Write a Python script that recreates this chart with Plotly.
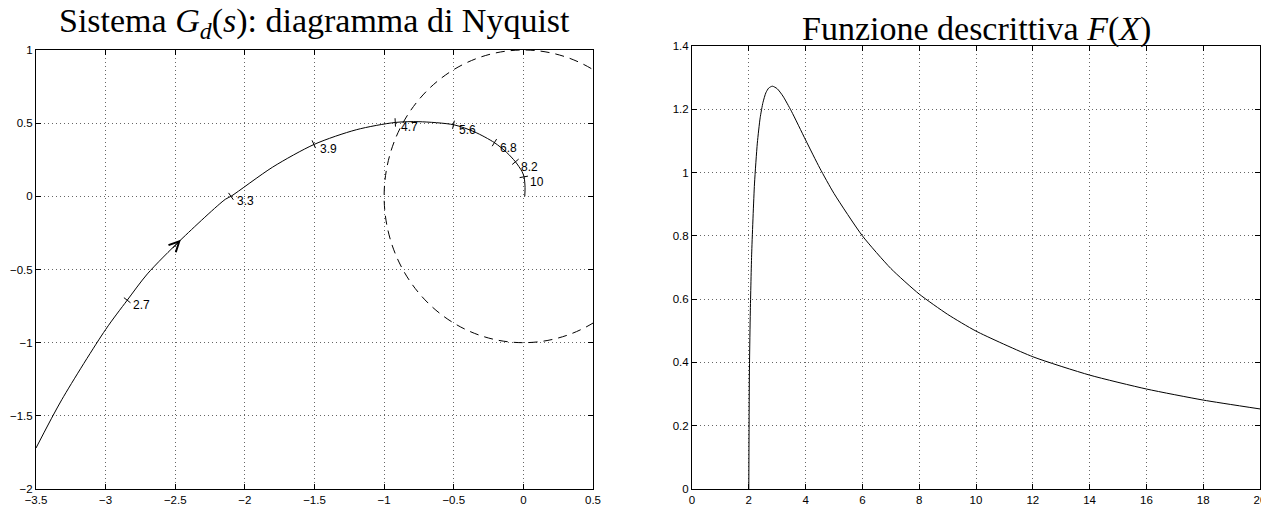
import plotly.graph_objects as go

W, H = 1261, 506

# ---------------- data ----------------
# Nyquist locus of G_d(jw)
nyq_re = [-3.5, -3.315, -3.0, -2.845, -2.70, -2.46, -2.14, -2.10, -1.8, -1.5, -1.2, -0.92,
          -0.75, -0.5, -0.35, -0.208, -0.12, -0.057, -0.01, 0.005, 0.012, 0.01]
nyq_im = [-1.72, -1.39, -0.91, -0.71, -0.53, -0.297, -0.02, 0.0, 0.2, 0.356, 0.455, 0.505,
          0.51, 0.489, 0.44, 0.367, 0.30, 0.236, 0.17, 0.133, 0.06, 0.0]

# frequency markers along the locus
freq_labels = ["2.7", "3.3", "3.9", "4.7", "5.6", "6.8", "8.2", "10"]
freq_re = [-2.845, -2.10, -1.505, -0.92, -0.502, -0.208, -0.057, 0.003]
freq_im = [-0.71, 0.0, 0.356, 0.505, 0.489, 0.367, 0.236, 0.133]

# direction arrow on the locus (tail -> head)
arrow_tail = (-2.53, -0.365)
arrow_head = (-2.46, -0.297)

# unit circle radius (dashed)
circle_radius = 1.0

# describing function F(X)
fx_X = [2.0, 2.02, 2.05, 2.1, 2.2, 2.3, 2.4, 2.5, 2.6, 2.7, 2.83, 3.0, 3.2, 3.5, 4.0, 4.5,
        5.0, 6.0, 7.0, 8.0, 9.0, 10.0, 12.0, 14.0, 16.0, 18.0, 20.0]
fx_F = [0.0, 0.354, 0.545, 0.740, 0.964, 1.093, 1.173, 1.222, 1.252, 1.267, 1.273, 1.265,
        1.242, 1.194, 1.103, 1.014, 0.934, 0.800, 0.697, 0.616, 0.552, 0.499, 0.418, 0.360,
        0.316, 0.281, 0.253]

# tick values / labels
l_xticks = [-3.5, -3, -2.5, -2, -1.5, -1, -0.5, 0, 0.5]
l_xtext = ["\u22123.5", "\u22123", "\u22122.5", "\u22122", "\u22121.5", "\u22121", "\u22120.5", "0", "0.5"]
l_yticks = [-2, -1.5, -1, -0.5, 0, 0.5, 1]
l_ytext = ["\u22122", "\u22121.5", "\u22121", "\u22120.5", "0", "0.5", "1"]
r_xticks = [0, 2, 4, 6, 8, 10, 12, 14, 16, 18, 20]
r_xtext = [str(v) for v in r_xticks]
r_yticks = [0, 0.2, 0.4, 0.6, 0.8, 1.0, 1.2, 1.4]
r_ytext = ["0", "0.2", "0.4", "0.6", "0.8", "1", "1.2", "1.4"]

left_title = "Sistema <i>G</i><sub><i>d</i></sub>(<i>s</i>): diagramma di Nyquist"
right_title = "Funzione descrittiva <i>F</i>(<i>X</i>)"

# ---------------- style / layout (pixels of a 1261x506 canvas) ----------------
L_X0, L_X1, L_Y0, L_Y1 = 36, 593, 50, 489
R_X0, R_X1, R_Y0, R_Y1 = 692, 1260, 46, 489
tick_angles = [-52, -35, -24, -3, 12, 32, 50, 80]

def xd(a, b):
    return [a / W, b / W]

def yd(top, bottom):
    return [1 - bottom / H, 1 - top / H]

sans = "Liberation Sans, Arial, sans-serif"
serif = "Liberation Serif, Times New Roman, serif"
tickfont = dict(family=sans, size=11.5, color="black")
axis_common = dict(
    showline=True, linecolor="black", linewidth=1, mirror="ticks",
    ticks="inside", ticklen=5, tickcolor="black", tickwidth=1,
    showgrid=True, gridcolor="#666", griddash="1px,3px", gridwidth=1,
    zeroline=False, tickfont=tickfont, fixedrange=True, ticklabeloverflow="allow",
)

fig = go.Figure()

fig.add_trace(go.Scatter(
    x=nyq_re, y=nyq_im, mode="lines", line=dict(color="black", width=1, shape="spline", smoothing=0.8),
    xaxis="x", yaxis="y", showlegend=False, hoverinfo="skip"))

fig.add_trace(go.Scatter(
    x=freq_re, y=freq_im, mode="markers",
    marker=dict(symbol="line-ns", size=6, angle=tick_angles, color="black",
                line=dict(color="black", width=1)),
    xaxis="x", yaxis="y", showlegend=False, hoverinfo="skip"))

fig.add_trace(go.Scatter(
    x=fx_X, y=fx_F, mode="lines", line=dict(color="black", width=1, shape="spline", smoothing=0.6),
    xaxis="x2", yaxis="y2", showlegend=False, hoverinfo="skip"))

fig.add_shape(type="circle", xref="x", yref="y",
              x0=-circle_radius, x1=circle_radius, y0=-circle_radius, y1=circle_radius,
              line=dict(color="black", width=1, dash="9px,6px"), layer="above")

annotations = []
for lab, xr, yi in zip(freq_labels, freq_re, freq_im):
    annotations.append(dict(x=xr, y=yi, xref="x", yref="y", text=lab, showarrow=False,
                            xanchor="left", yanchor="middle", xshift=4, yshift=-5,
                            font=dict(family=sans, size=12, color="black")))

annotations.append(dict(x=arrow_head[0], y=arrow_head[1], ax=arrow_tail[0], ay=arrow_tail[1],
                        xref="x", yref="y", axref="x", ayref="y", text="", showarrow=True,
                        arrowhead=5, arrowsize=2, arrowwidth=1, arrowcolor="black", standoff=0))

annotations.append(dict(x=(L_X0 + L_X1) / 2 / W, y=1 - 23 / H, xref="paper", yref="paper",
                        text=left_title, showarrow=False, xanchor="center", yanchor="middle",
                        font=dict(family=serif, size=34, color="black")))
annotations.append(dict(x=(R_X0 + R_X1) / 2 / W, y=1 - 29 / H, xref="paper", yref="paper",
                        text=right_title, showarrow=False, xanchor="center", yanchor="middle",
                        font=dict(family=serif, size=34, color="black")))

fig.update_layout(
    autosize=True,
    margin=dict(l=0, r=0, t=0, b=0, autoexpand=False),
    paper_bgcolor="white", plot_bgcolor="white",
    xaxis=dict(domain=xd(L_X0, L_X1), range=[-3.5, 0.5], tickvals=l_xticks, ticktext=l_xtext,
               anchor="y", **axis_common),
    yaxis=dict(domain=yd(L_Y0, L_Y1), range=[-2, 1], tickvals=l_yticks, ticktext=l_ytext,
               anchor="x", **axis_common),
    xaxis2=dict(domain=xd(R_X0, R_X1), range=[0, 20], tickvals=r_xticks, ticktext=r_xtext,
                anchor="y2", **axis_common),
    yaxis2=dict(domain=yd(R_Y0, R_Y1), range=[0, 1.4], tickvals=r_yticks, ticktext=r_ytext,
                anchor="x2", **axis_common),
    annotations=annotations,
    showlegend=False,
)

fig.write_html(
    "out.html",
    config={"displayModeBar": False, "responsive": True},
    default_width="100vw",
    default_height="100vh",
    post_script=(
        "document.documentElement.style.margin='0';"
        "document.body.style.margin='0';document.body.style.overflow='hidden';"
        "document.documentElement.style.overflow='hidden';"
    ),
)
